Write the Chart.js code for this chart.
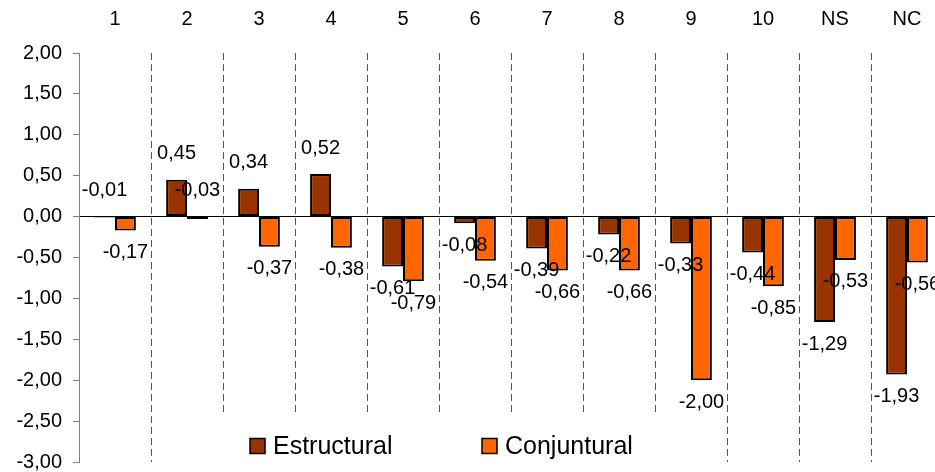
<!DOCTYPE html>
<html>
<head>
<meta charset="utf-8">
<script src="https://cdn.jsdelivr.net/npm/chart.js@4.4.1/dist/chart.umd.min.js"></script>
<style>
  html, body { margin: 0; padding: 0; background: #fff; overflow: hidden; }
  #wrap { width: 945px; height: 472px; }
</style>
</head>
<body>
<div id="wrap"><canvas id="chart"></canvas></div>
<script>
const categories = ['1', '2', '3', '4', '5', '6', '7', '8', '9', '10', 'NS', 'NC'];
const estructural = [-0.01, 0.45, 0.34, 0.52, -0.61, -0.08, -0.39, -0.22, -0.33, -0.44, -1.29, -1.93];
const conjuntural = [-0.17, -0.03, -0.37, -0.38, -0.79, -0.54, -0.66, -0.66, -2.00, -0.85, -0.53, -0.56];
const yTicks = [2, 1.5, 1, 0.5, 0, -0.5, -1, -1.5, -2, -2.5, -3];
const seriesNames = ['Estructural', 'Conjuntural'];
const seriesColors = ['#993300', '#FF6600'];

const FONT = '"Liberation Sans", Arial, sans-serif';
const fmt = v => v.toFixed(2).replace('.', ',');

// value labels: above for positives / near-zero, below otherwise
const valueLabels = {
  id: 'valueLabels',
  afterDatasetsDraw(chart) {
    const { ctx } = chart;
    const y = chart.scales.y;
    ctx.save();
    ctx.font = '20px ' + FONT;
    ctx.fillStyle = '#000';
    ctx.textAlign = 'center';
    ctx.textBaseline = 'middle';
    chart.data.datasets.forEach((ds, i) => {
      chart.getDatasetMeta(i).data.forEach((bar, j) => {
        const v = ds.data[j];
        const ty = v > -0.05 ? y.getPixelForValue(Math.max(v, 0)) - 26 : bar.y + 22;
        ctx.fillText(fmt(v), bar.x, ty);
      });
    });
    ctx.restore();
  }
};

// legend boxed inside the plot, near the bottom
const boxLegend = {
  id: 'boxLegend',
  afterDraw(chart) {
    const { ctx, chartArea } = chart;
    const left = chartArea.left;
    const top = chartArea.bottom - 49;
    ctx.save();
    ctx.fillStyle = '#fff';
    ctx.fillRect(left + 115, top, 520, chart.height - top);
    ctx.font = '25px ' + FONT;
    ctx.textBaseline = 'middle';
    ctx.textAlign = 'left';
    chart.data.datasets.forEach((ds, i) => {
      const x = left + 171 + i * 232;
      const cy = top + 33;
      ctx.fillStyle = ds.backgroundColor;
      ctx.fillRect(x, cy - 7.5, 15, 15);
      ctx.strokeStyle = '#000';
      ctx.lineWidth = 1.5;
      ctx.strokeRect(x, cy - 7.5, 15, 15);
      ctx.fillStyle = '#000';
      ctx.fillText(ds.label, x + 23, cy + 1);
    });
    ctx.restore();
  }
};

new Chart(document.getElementById('chart'), {
  type: 'bar',
  data: {
    labels: categories,
    datasets: [
      { label: seriesNames[0], data: estructural, backgroundColor: seriesColors[0] },
      { label: seriesNames[1], data: conjuntural, backgroundColor: seriesColors[1] }
    ]
  },
  options: {
    responsive: true,
    maintainAspectRatio: false,
    animation: false,
    layout: { padding: { left: 0, right: 2, top: 0, bottom: 10 } },
    datasets: {
      bar: {
        categoryPercentage: 0.58,
        barPercentage: 1.0,
        borderColor: '#000',
        borderWidth: 2,
        borderSkipped: false
      }
    },
    plugins: {
      legend: { display: false },
      tooltip: { enabled: false }
    },
    scales: {
      x: {
        position: 'top',
        afterFit: s => { s.height = 53; },
        grid: { color: '#555', lineWidth: 1, drawTicks: false },
        border: { display: false, dash: [7, 4] },
        ticks: { color: '#000', font: { family: FONT, size: 20 }, padding: 22 }
      },
      y: {
        min: -3,
        max: 2,
        afterFit: s => { s.width = 79; s.paddingTop = 0; s.paddingBottom = 0; },
        afterBuildTicks: scale => { scale.ticks = yTicks.map(v => ({ value: v })); },
        grid: {
          color: c => (c.tick && c.tick.value === 0 ? '#000' : 'rgba(0,0,0,0)'),
          tickColor: '#808080',
          tickLength: 6
        },
        border: { display: true, color: '#808080', width: 1 },
        ticks: {
          color: '#000',
          font: { family: FONT, size: 20, lineHeight: 1 },
          padding: 11,
          callback: v => fmt(v)
        }
      }
    }
  },
  plugins: [valueLabels, boxLegend]
});
</script>
</body>
</html>
